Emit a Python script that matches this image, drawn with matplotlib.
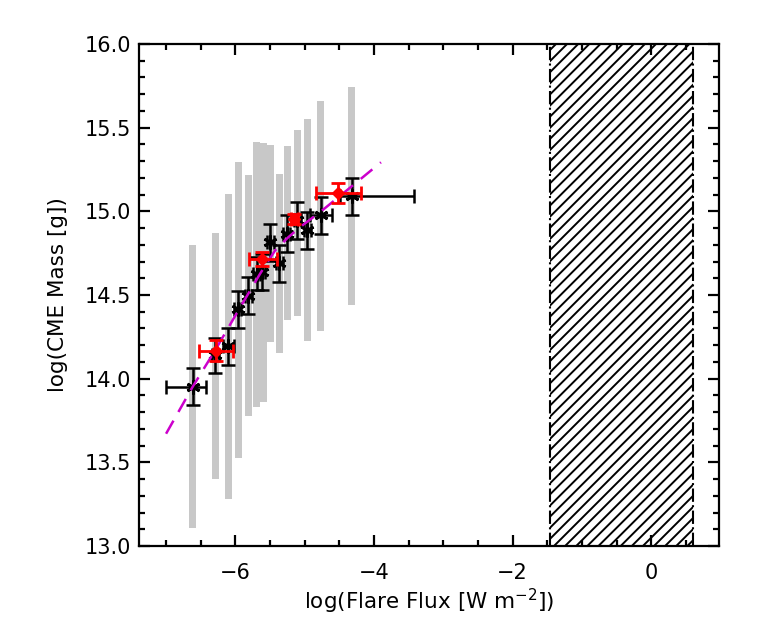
import numpy as np
import matplotlib
matplotlib.use("Agg")
import matplotlib.pyplot as plt
from matplotlib.ticker import MultipleLocator, FormatStrFormatter, FuncFormatter

# ---- data ----
# gray range bars (x, bottom, top)
bar_x   = [-6.615, -6.293, -6.101, -5.957, -5.808, -5.692, -5.596, -5.50, -5.37, -5.255, -5.106, -4.966, -4.769, -4.322]
bar_top = [14.797, 14.871, 15.106, 15.295, 15.219, 15.414, 15.410, 15.394, 15.225, 15.388, 15.488, 15.554, 15.657, 15.743]
bar_bot = [13.108, 13.398, 13.283, 13.528, 13.777, 13.831, 13.860, 14.219, 14.155, 14.349, 14.374, 14.225, 14.283, 14.438]

# black points
blk_x    = [-6.615, -6.293, -6.101, -5.965, -5.815, -5.692, -5.619, -5.50, -5.37, -5.259, -5.106, -4.962, -4.769, -4.322]
blk_y    = [13.953, 14.139, 14.194, 14.415, 14.497, 14.627, 14.637, 14.816, 14.690, 14.866, 14.946, 14.886, 14.976, 15.089]
blk_xlo  = [0.385, 0.05, 0.08, 0.05, 0.05, 0.05, 0.05, 0.05, 0.05, 0.05, 0.05, 0.05, 0.154, 0.17]
blk_xhi  = [0.19, 0.05, 0.08, 0.05, 0.05, 0.05, 0.05, 0.05, 0.05, 0.05, 0.05, 0.05, 0.167, 0.90]
blk_yerr = [0.11, 0.107, 0.11, 0.11, 0.11, 0.10, 0.11, 0.11, 0.11, 0.11, 0.11, 0.11, 0.11, 0.11]

# red points
red_x    = [-6.279, -5.612, -5.149, -4.515]
red_y    = [14.164, 14.718, 14.952, 15.109]
red_xlo  = [0.244, 0.19, 0.05, 0.32]
red_xhi  = [0.241, 0.21, 0.05, 0.33]
red_ylo  = [0.058, 0.043, 0.03, 0.059]
red_yhi  = [0.065, 0.039, 0.03, 0.060]

# fit curve
fit_x = [-7.0, -6.62, -6.293, -5.957, -5.644, -5.428, -5.245, -5.067, -4.779, -4.394, -3.90]
fit_y = [13.671, 13.949, 14.169, 14.408, 14.627, 14.766, 14.842, 14.906, 14.995, 15.125, 15.293]

# hatched (excluded) region
hatch_lo, hatch_hi = -1.46, 0.60

x_ticks = [-6, -4, -2, 0]
y_ticks = [13.0, 13.5, 14.0, 14.5, 15.0, 15.5, 16.0]

plt.rcParams['font.family'] = ['DejaVu Sans']
plt.rcParams['hatch.linewidth'] = 1.4

fig = plt.figure(figsize=(7.61, 6.34), dpi=100)
ax = fig.add_axes([0.1827, 0.1388, 0.762, 0.7918])

ax.set_xlim(-7.39, 0.975)
ax.set_ylim(13.0, 16.0)

# gray bars
bx = np.array(bar_x); bt = np.array(bar_top); bb = np.array(bar_bot)
ax.bar(bx, bt - bb, bottom=bb, width=0.1, color='#c8c8c8', edgecolor='none', zorder=1)

# black errorbars
ax.errorbar(blk_x, blk_y, xerr=[blk_xlo, blk_xhi], yerr=blk_yerr, fmt='none',
            ecolor='black', elinewidth=1.8, capsize=5, capthick=1.8, zorder=3)
ax.plot(blk_x, blk_y, linestyle='none', marker=(6, 2, 0), markersize=10,
        markeredgewidth=2.0, color='black', zorder=4)

# fit curve
ax.plot(fit_x, fit_y, linestyle=(0, (6, 4)), color='#cc00cc', lw=1.8, zorder=5)

# red points
ax.errorbar(red_x, red_y, xerr=[red_xlo, red_xhi], yerr=[red_ylo, red_yhi], fmt='D',
            color='red', ecolor='red', markersize=6.5, elinewidth=2.0, capsize=5,
            capthick=2.0, zorder=6)

# hatched region
ax.fill_betweenx([13.0, 16.0], hatch_lo, hatch_hi, facecolor='none', edgecolor='black',
                 hatch='///', linewidth=0, zorder=2)
for xv in (hatch_lo, hatch_hi):
    ax.axvline(xv, color='black', linestyle='-.', lw=1.5, zorder=2)

# ticks
ax.set_xticks(x_ticks)
ax.xaxis.set_minor_locator(MultipleLocator(0.5))
ax.set_yticks(y_ticks)
ax.yaxis.set_minor_locator(MultipleLocator(0.1))
ax.yaxis.set_major_formatter(FormatStrFormatter('%.1f'))
ax.xaxis.set_major_formatter(FuncFormatter(lambda v, p: f"{int(round(v))}".replace('-', '\u2212')))

ax.tick_params(which='both', direction='in', top=True, right=True, width=1.6)
ax.tick_params(which='major', length=8)
ax.tick_params(which='minor', length=4.5)
ax.tick_params(axis='x', which='major', labelsize=15, pad=12)
ax.tick_params(axis='y', which='major', labelsize=15, pad=6)
for s in ax.spines.values():
    s.set_linewidth(1.6)

ax.set_xlabel('log(Flare Flux [W m$^{-2}$])', fontsize=15.5, labelpad=3)
ax.set_ylabel('log(CME Mass [g])', fontsize=15.5, labelpad=12)

fig.savefig('out.png', dpi=100)
